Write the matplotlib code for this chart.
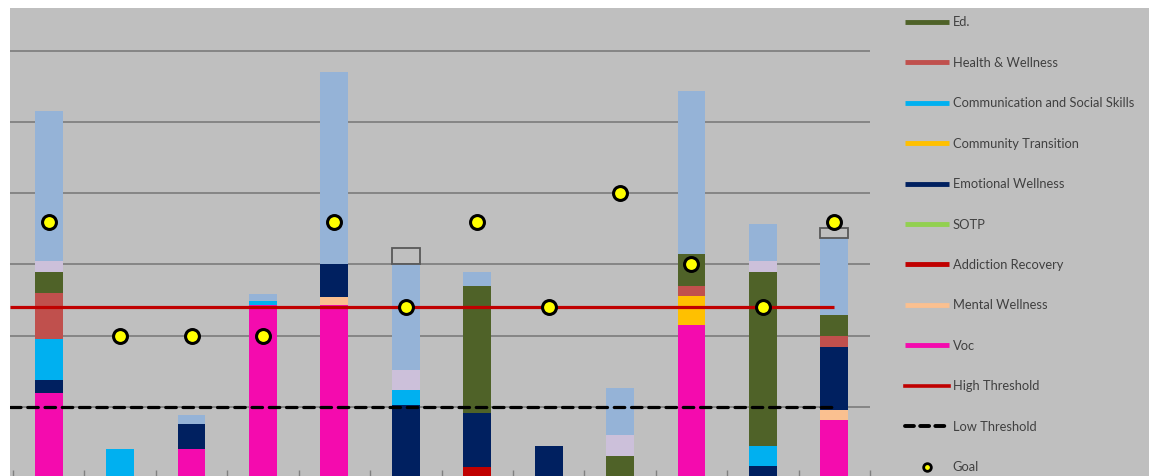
import matplotlib
matplotlib.use("Agg")
import matplotlib.pyplot as plt
from matplotlib.lines import Line2D
from matplotlib.patches import Rectangle
import numpy as np

# ---- data (stack order bottom -> top) ----
voc         = [1.19, 0,    0.41, 2.43, 2.43, 0,    0,    0,    0,    2.15, 0,    0.81]
mental      = [0,    0,    0,    0,    0.11, 0,    0,    0,    0,    0,    0,    0.14]
addiction   = [0,    0,    0,    0,    0,    0,    0.16, 0,    0,    0,    0,    0]
sotp        = [0,    0,    0,    0,    0,    0,    0,    0,    0,    0,    0,    0]
emotional   = [0.19, 0,    0.35, 0,    0.47, 1.03, 0.75, 0.45, 0,    0,    0.17, 0.89]
comm_trans  = [0,    0,    0,    0,    0,    0,    0,    0,    0,    0.40, 0,    0]
comm_social = [0.57, 0.41, 0,    0.06, 0,    0.20, 0,    0,    0,    0,    0.28, 0]
health      = [0.65, 0,    0,    0,    0,    0,    0,    0,    0,    0.15, 0,    0.15]
ed          = [0.29, 0,    0,    0,    0,    0,    1.79, 0,    0.31, 0.45, 2.45, 0.30]
lavender    = [0.16, 0,    0,    0,    0,    0.29, 0,    0,    0.29, 0,    0.15, 0]
light_blue  = [2.11, 0,    0.12, 0.09, 2.69, 1.49, 0.20, 0,    0.66, 2.29, 0.52, 1.08]
box         = [0,    0,    0,    0,    0,    0.22, 0,    0,    0,    0,    0,    0.14]
goal        = [3.6,  2.0,  2.0,  2.0,  3.6,  2.4,  3.6,  2.4,  4.0,  3.0,  2.4,  3.6]
high_threshold = 2.4
low_threshold = 1.0

series = [
    ("Voc", voc, "#F40BAE"),
    ("Mental Wellness", mental, "#FAC090"),
    ("Addiction Recovery", addiction, "#C00000"),
    ("SOTP", sotp, "#92D050"),
    ("Emotional Wellness", emotional, "#002060"),
    ("Community Transition", comm_trans, "#FFC000"),
    ("Communication and Social Skills", comm_social, "#00B0F0"),
    ("Health & Wellness", health, "#C0504D"),
    ("Ed.", ed, "#4F6228"),
    (None, lavender, "#CCC0DA"),
    (None, light_blue, "#95B3D7"),
]

BG = "#BFBFBF"
W, H = 1149, 476
fig = plt.figure(figsize=(W / 100, H / 100), dpi=100)
fig.patch.set_facecolor(BG)
# white crop margins (top and left)
fig.add_artist(Rectangle((0, 1 - 8 / H), 1, 8 / H, transform=fig.transFigure,
                         facecolor="white", edgecolor="none", zorder=10))
fig.add_artist(Rectangle((0, 0), 10 / W, 1, transform=fig.transFigure,
                         facecolor="white", edgecolor="none", zorder=10))

ax = fig.add_axes([10 / W, -2 / H, 860 / W, 470 / H])
ax.set_facecolor(BG)
n = len(voc)
x = np.arange(n)
ax.set_xlim(-0.5 - 3 / 71.4, n - 0.5)
ax.set_ylim(0, 470 / 71.2)

for s in ax.spines.values():
    s.set_visible(False)
ax.set_yticks([])
ax.set_xticks(np.arange(-0.5, n, 1.0))
ax.set_xticklabels([])
ax.tick_params(axis="x", direction="in", length=6, color="#808080", width=1)
for gy in range(1, 7):
    ax.axhline(gy, color="#858585", lw=1.4, zorder=0.5)

bw = 0.39
bottom = np.zeros(n)
for label, vals, col in series:
    v = np.array(vals, dtype=float)
    ax.bar(x, v, bw, bottom=bottom, color=col, edgecolor="none", zorder=2)
    bottom += v
ax.bar(x, np.array(box), bw, bottom=bottom, facecolor="none",
       edgecolor=np.where(np.array(box) > 0, "#595959", "none"), lw=1.3, zorder=2)

ax.plot([ax.get_xlim()[0], n - 1], [high_threshold] * 2, color="#C00000",
        lw=2.3, zorder=3, solid_capstyle="butt")
ax.plot([ax.get_xlim()[0], n - 1], [low_threshold] * 2, color="black",
        lw=2.3, ls=(0, (3.3, 2.1)), zorder=3, dash_capstyle="round")
ax.plot(x, goal, ls="none", marker="o", ms=10, mfc="#FFFF00", mec="black",
        mew=2.2, zorder=4)

# legend
handles = []
for label, vals, col in reversed(series):
    if label is None:
        continue
    handles.append(Line2D([0], [0], color=col, lw=3.5, solid_capstyle="butt", label=label))
handles.append(Line2D([0], [0], color="#C00000", lw=2.6, label="High Threshold"))
handles.append(Line2D([0], [0], color="black", lw=2.8, ls=(0, (2.3, 1.6)),
                      dash_capstyle="round", label="Low Threshold"))
handles.append(Line2D([0], [0], ls="none", marker="o", ms=5.5, mfc="#FFFF00",
                      mec="black", mew=2.0, label="Goal"))
leg = fig.legend(handles=handles, loc="upper left",
                 bbox_to_anchor=(905 / W, 1 - 16.5 / H), frameon=False,
                 prop={"family": "Lato", "size": 9.3}, labelcolor="#404040",
                 handlelength=3.4, handletextpad=0.3, labelspacing=2.2,
                 borderaxespad=0, borderpad=0)

fig.savefig("out.png", dpi=100, facecolor=fig.get_facecolor())
